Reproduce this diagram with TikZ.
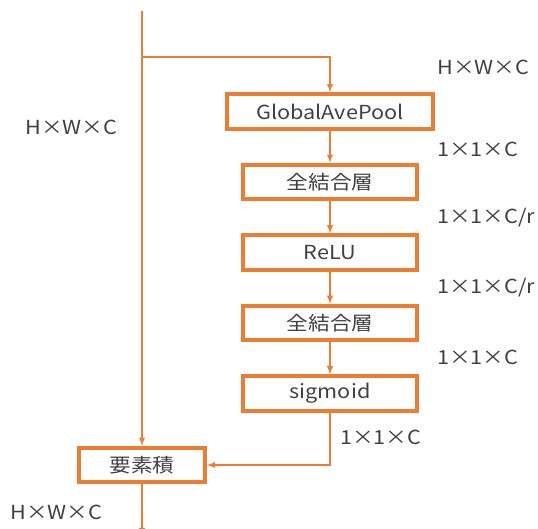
\documentclass[tikz,border=0pt]{standalone}
\usepackage{fontspec}
\setmainfont[FakeStretch=1.12]{Noto Sans CJK JP}
\usetikzlibrary{positioning}

\definecolor{seorange}{RGB}{237,125,49}
\definecolor{setext}{RGB}{64,64,64}

\begin{document}
\begin{tikzpicture}[x=0.75pt,y=-0.75pt]
      \tikzstyle{layer}=[rectangle, draw=seorange, line width=3pt, minimum height=26pt, minimum width=130pt, text=setext, font=\fontsize{14.5}{16}\selectfont, inner sep=0pt, node distance=23.9pt]
      \tikzstyle{connect}=[-latex, draw=seorange, line width=1.1pt]
      \tikzstyle{dim}=[anchor=west, text=setext, font=\fontsize{14.5}{16}\selectfont, inner sep=0pt]

      \useasboundingbox (0,0) rectangle (538,528);

      \node[layer, minimum width=154.5pt] (gap) at (330,111.5) {GlobalAvePool};
      \node[layer] (fc1) [below=of gap] {全結合層};
      \node[layer] (relu) [below=of fc1] {ReLU};
      \node[layer] (fc2) [below=of relu] {全結合層};
      \node[layer] (sig) [below=of fc2] {sigmoid};
      \node[layer, minimum width=94.5pt] (mul) at (142,465) {要素積};

      \coordinate (in) at (142,11);
      \coordinate (split) at (142,57);
      \coordinate (out) at (142,536);

      \draw[connect] (in) -- (mul);
      \draw[connect] (split) -| (gap);
      \path (gap) edge [connect] (fc1);
      \path (fc1) edge [connect] (relu);
      \path (relu) edge [connect] (fc2);
      \path (fc2) edge [connect] (sig);
      \draw[connect] (sig) |- (mul);
      \draw[connect] (mul) -- (out);

      \node[dim] (d0) at (437,67) {H×W×C};
      \node[dim] (d1) at (437,149) {1×1×C};
      \node[dim] (d2) at (437,218) {1×1×C/r};
      \node[dim] (d3) at (437,288) {1×1×C/r};
      \node[dim] (d4) at (437,357) {1×1×C};
      \node[dim] (d5) at (340,437) {1×1×C};
      \node[dim] (dl) at (25,127) {H×W×C};
      \node[dim] (dout) at (10,512) {H×W×C};
\end{tikzpicture}
\end{document}
